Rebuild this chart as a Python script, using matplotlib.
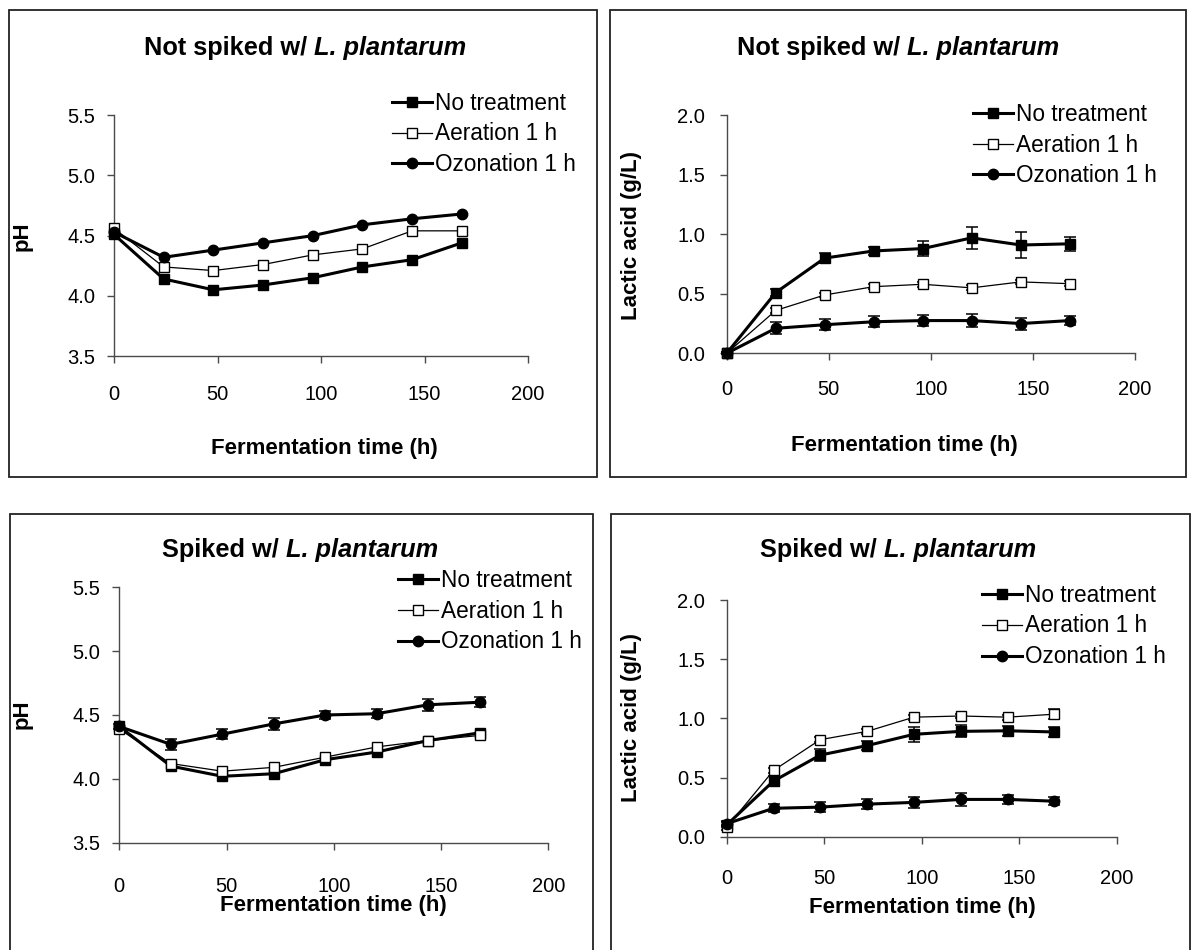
import matplotlib
matplotlib.use("Agg")
import matplotlib.pyplot as plt
from matplotlib.patches import Rectangle
from matplotlib.lines import Line2D

# ---------------- data ----------------
time_h = [0, 24, 48, 72, 96, 120, 144, 168]
series_names = ["No treatment", "Aeration 1 h", "Ozonation 1 h"]

# pH, not spiked with L. plantarum
ph_ns_none = [4.51, 4.14, 4.05, 4.09, 4.15, 4.24, 4.30, 4.44]
ph_ns_aer = [4.56, 4.24, 4.21, 4.26, 4.34, 4.39, 4.54, 4.54]
ph_ns_ozo = [4.53, 4.32, 4.38, 4.44, 4.50, 4.59, 4.64, 4.68]

# Lactic acid (g/L), not spiked
la_ns_none = [0.00, 0.51, 0.80, 0.86, 0.88, 0.97, 0.91, 0.92]
la_ns_none_err = [0.01, 0.03, 0.04, 0.03, 0.065, 0.09, 0.11, 0.06]
la_ns_aer = [0.00, 0.36, 0.49, 0.56, 0.58, 0.55, 0.60, 0.585]
la_ns_aer_err = [0.0, 0.02, 0.02, 0.02, 0.02, 0.02, 0.02, 0.02]
la_ns_ozo = [0.00, 0.21, 0.24, 0.265, 0.275, 0.275, 0.25, 0.275]
la_ns_ozo_err = [0.01, 0.05, 0.045, 0.045, 0.045, 0.055, 0.05, 0.035]

# pH, spiked with L. plantarum
ph_sp_none = [4.41, 4.10, 4.02, 4.04, 4.15, 4.21, 4.30, 4.36]
ph_sp_aer = [4.39, 4.12, 4.06, 4.09, 4.17, 4.25, 4.30, 4.34]
ph_sp_ozo = [4.41, 4.27, 4.35, 4.43, 4.50, 4.51, 4.58, 4.60]
ph_sp_ozo_err = [0.02, 0.045, 0.04, 0.045, 0.03, 0.035, 0.045, 0.04]

# Lactic acid (g/L), spiked
la_sp_none = [0.10, 0.47, 0.69, 0.77, 0.865, 0.89, 0.895, 0.885]
la_sp_none_err = [0.02, 0.04, 0.05, 0.04, 0.065, 0.05, 0.04, 0.04]
la_sp_aer = [0.08, 0.56, 0.82, 0.89, 1.01, 1.02, 1.01, 1.035]
la_sp_aer_err = [0.02, 0.02, 0.02, 0.02, 0.02, 0.02, 0.02, 0.04]
la_sp_ozo = [0.11, 0.24, 0.25, 0.275, 0.29, 0.315, 0.315, 0.30]
la_sp_ozo_err = [0.02, 0.035, 0.04, 0.04, 0.045, 0.055, 0.04, 0.035]

x_ticks = [0, 50, 100, 150, 200]
ph_ticks = [3.5, 4.0, 4.5, 5.0, 5.5]
la_ticks = [0.0, 0.5, 1.0, 1.5, 2.0]

# ---------------- figure ----------------
W, H, DPI = 1193, 950, 100
plt.rcParams["font.family"] = ["Liberation Sans", "DejaVu Sans"]
fig = plt.figure(figsize=(W / DPI, H / DPI), dpi=DPI)
fig.patch.set_facecolor("white")

AX_COL = "#4a4a4a"
TICK_FS = 14.5
LEGEND_FS = 16.3
LABEL_FS = 16
TITLE_FS = 18.3


def px_axes(x0, x1, ytop, ybot):
    return fig.add_axes([x0 / W, 1 - ybot / H, (x1 - x0) / W, (ybot - ytop) / H])


def fig_text(x, y, s, **kw):
    return fig.text(x / W, 1 - y / H, s, **kw)


def panel_box(x0, y0, x1, y1):
    fig.patches.append(Rectangle((x0 / W, 1 - y1 / H), (x1 - x0) / W, (y1 - y0) / H,
                                 transform=fig.transFigure, fill=False,
                                 edgecolor="#222222", linewidth=1.3))


def mixed_title(cx, cy, plain, italic):
    t1 = fig_text(0, cy, plain, fontsize=TITLE_FS, fontweight="bold", va="center", ha="left")
    t2 = fig_text(0, cy, italic, fontsize=TITLE_FS, fontweight="bold", style="italic",
                  va="center", ha="left")
    fig.canvas.draw()
    r = fig.canvas.get_renderer()
    w1 = t1.get_window_extent(r).width
    w2 = t2.get_window_extent(r).width
    gap = 0.278 * TITLE_FS * DPI / 72
    start = cx - (w1 + gap + w2) / 2
    t1.set_x(start / W)
    t2.set_x((start + w1 + gap) / W)


STYLES = [
    dict(marker="s", color="black", mfc="black", mec="black", lw=2.2, ms=7),
    dict(marker="s", color="black", mfc="white", mec="black", lw=0.9, ms=7.5, mew=1.0),
    dict(marker="o", color="black", mfc="black", mec="black", lw=2.2, ms=7.5),
]


def draw_panel(ax, ys, errs, ylim, yticks, xpad, ypad, legend_at):
    for y, e, st in zip(ys, errs, STYLES):
        if e is not None:
            ax.errorbar(time_h, y, yerr=e, fmt="none", ecolor="black", elinewidth=1.1,
                        capsize=4.5, capthick=1.1, clip_on=False, zorder=2)
        ax.plot(time_h, y, linestyle="-", clip_on=False, zorder=3, **st)
    ax.set_xlim(0, 200)
    ax.set_ylim(*ylim)
    ax.set_xticks(x_ticks)
    ax.set_yticks(yticks)
    ax.set_yticklabels([f"{v:.1f}" for v in yticks])
    for s in ("top", "right"):
        ax.spines[s].set_visible(False)
    for s in ("left", "bottom"):
        ax.spines[s].set_color(AX_COL)
        ax.spines[s].set_linewidth(1.0)
    ax.tick_params(direction="out", length=5, width=1.0, color=AX_COL, labelsize=TICK_FS)
    ax.tick_params(axis="x", pad=xpad)
    ax.tick_params(axis="y", pad=ypad)
    ax.patch.set_alpha(0)
    handles = [Line2D([], [], linestyle="-", **st) for st in STYLES]
    ax.legend(handles, series_names, loc="center left",
              bbox_to_anchor=(legend_at[0] / W, 1 - legend_at[1] / H),
              bbox_transform=fig.transFigure, frameon=False, borderpad=0,
              borderaxespad=0, handlelength=1.75, handletextpad=0.13,
              labelspacing=0.35, fontsize=LEGEND_FS)


# panel frames
panel_box(9, 10, 597, 477)
panel_box(610, 10, 1186, 477)
panel_box(10, 514, 593, 960)
panel_box(611, 514, 1190, 960)

# top-left: pH, not spiked
ax1 = px_axes(114, 528, 115.3, 356)
draw_panel(ax1, [ph_ns_none, ph_ns_aer, ph_ns_ozo], [None, None, None],
           (3.5, 5.5), ph_ticks, 16.0, 8.5, (392, 134))

# top-right: lactic acid, not spiked
ax2 = px_axes(726.7, 1135, 115.3, 353.3)
draw_panel(ax2, [la_ns_none, la_ns_aer, la_ns_ozo],
           [la_ns_none_err, la_ns_aer_err, la_ns_ozo_err],
           (0.0, 2.0), la_ticks, 14.0, 10.5, (973, 145))

# bottom-left: pH, spiked
ax3 = px_axes(119.3, 548.3, 587.3, 842.7)
draw_panel(ax3, [ph_sp_none, ph_sp_aer, ph_sp_ozo], [None, None, ph_sp_ozo_err],
           (3.5, 5.5), ph_ticks, 19.5, 8.5, (398, 611))

# bottom-right: lactic acid, spiked
ax4 = px_axes(726.7, 1116.7, 600, 836.7)
draw_panel(ax4, [la_sp_none, la_sp_aer, la_sp_ozo],
           [la_sp_none_err, la_sp_aer_err, la_sp_ozo_err],
           (0.0, 2.0), la_ticks, 18.5, 10.5, (982, 626))

# axis titles
lab = dict(fontsize=LABEL_FS, fontweight="bold", ha="center", va="center")
fig_text(324, 448, "Fermentation time (h)", **lab)
fig_text(904, 445, "Fermentation time (h)", **lab)
fig_text(333, 906, "Fermentation time (h)", **lab)
fig_text(922, 908, "Fermentation time (h)", **lab)
fig_text(22, 236, "pH", rotation=90, **lab)
fig_text(22, 714, "pH", rotation=90, **lab)
fig_text(632, 235, "Lactic acid (g/L)", rotation=90, **lab)
fig_text(632, 718, "Lactic acid (g/L)", rotation=90, **lab)

# panel titles
mixed_title(305, 48, "Not spiked w/", "L. plantarum")
mixed_title(898, 48, "Not spiked w/", "L. plantarum")
mixed_title(300, 550, "Spiked w/", "L. plantarum")
mixed_title(898, 550, "Spiked w/", "L. plantarum")

fig.savefig("out.png", dpi=DPI, facecolor="white")
